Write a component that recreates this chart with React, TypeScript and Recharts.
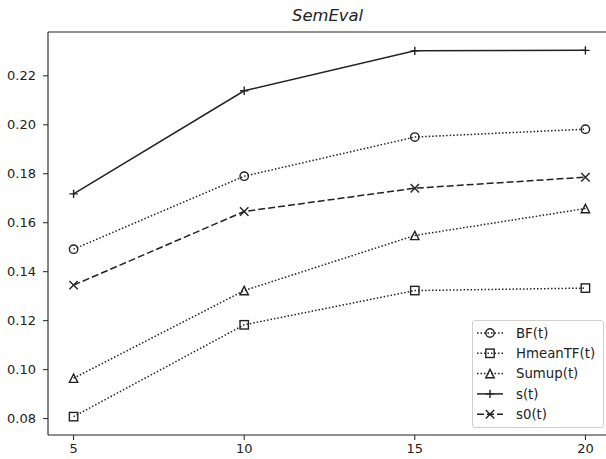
import React from 'react';
import { LineChart, Line, XAxis, YAxis, ReferenceLine } from 'recharts';

// values
const xValues = [5, 10, 15, 20];
const bfValues = [0.1492, 0.179, 0.195, 0.1982];
const hmeanValues = [0.0808, 0.1183, 0.1323, 0.1333];
const sumupValues = [0.0965, 0.1323, 0.1548, 0.1658];
const sValues = [0.1718, 0.2139, 0.2302, 0.2304];
const s0Values = [0.1345, 0.1646, 0.1741, 0.1786];
const yTicks = [0.08, 0.1, 0.12, 0.14, 0.16, 0.18, 0.2, 0.22];
const xTicks = [5, 10, 15, 20];

const data = xValues.map((x, i) => ({
  x,
  bf: bfValues[i],
  hmean: hmeanValues[i],
  sumup: sumupValues[i],
  s: sValues[i],
  s0: s0Values[i],
}));

const INK = '#222';
const FONT = '"DejaVu Sans", sans-serif';
const Y_MIN = 0.0733;
const Y_MAX = 0.2379;

type Shape = 'circle' | 'square' | 'triangle' | 'plus' | 'x';

const series: { key: string; name: string; shape: Shape; dash?: string }[] = [
  { key: 'bf', name: 'BF(t)', shape: 'circle', dash: '1.5 2' },
  { key: 'hmean', name: 'HmeanTF(t)', shape: 'square', dash: '1.5 2' },
  { key: 'sumup', name: 'Sumup(t)', shape: 'triangle', dash: '1.5 2' },
  { key: 's', name: 's(t)', shape: 'plus' },
  { key: 's0', name: 's0(t)', shape: 'x', dash: '7 3' },
];

const Marker = ({ shape, cx, cy }: { shape: Shape; cx: number; cy: number }) => {
  const h = 4.2;
  const common = { fill: 'none', stroke: INK, strokeWidth: 1.4 };
  switch (shape) {
    case 'circle':
      return <circle cx={cx} cy={cy} r={h} {...common} />;
    case 'square':
      return <rect x={cx - h} y={cy - h} width={h * 2} height={h * 2} {...common} />;
    case 'triangle':
      return (
        <polygon
          points={`${cx},${cy - h} ${cx - h},${cy + h} ${cx + h},${cy + h}`}
          {...common}
        />
      );
    case 'plus':
      return (
        <path d={`M${cx - h},${cy}H${cx + h}M${cx},${cy - h}V${cy + h}`} {...common} />
      );
    default:
      return (
        <path
          d={`M${cx - h},${cy - h}L${cx + h},${cy + h}M${cx - h},${cy + h}L${cx + h},${cy - h}`}
          {...common}
        />
      );
  }
};

const LegendBox = () => (
  <div
    style={{
      position: 'absolute',
      left: 472,
      top: 320,
      width: 132,
      height: 108,
      border: '1px solid #d0d0d0',
      borderRadius: 3,
      background: 'rgba(255,255,255,0.85)',
      boxSizing: 'border-box',
    }}
  >
    <svg width={132} height={108} style={{ position: 'absolute', left: -1, top: -1 }}>
      {series.map((s, i) => {
        const y = 13 + i * 20.3;
        return (
          <g key={s.key}>
            <line
              x1={5}
              x2={31}
              y1={y}
              y2={y}
              stroke={INK}
              strokeWidth={1.5}
              strokeDasharray={s.dash}
            />
            <Marker shape={s.shape} cx={18} cy={y} />
            <text
              x={44}
              y={y}
              dy="0.36em"
              fontFamily={FONT}
              fontSize={13.3}
              fill={INK}
            >
              {s.name}
            </text>
          </g>
        );
      })}
    </svg>
  </div>
);

export default function App() {
  return (
    <div
      style={{
        position: 'absolute',
        left: 0,
        top: 0,
        width: 606,
        height: 459,
        overflow: 'hidden',
        background: '#fff',
      }}
    >
      <div
        style={{
          position: 'absolute',
          left: 292,
          top: 6,
          fontFamily: FONT,
          fontStyle: 'italic',
          fontSize: 16.4,
          color: INK,
          lineHeight: '20px',
        }}
      >
        SemEval
      </div>
      <LineChart
        width={620}
        height={459}
        data={data}
        margin={{ top: 32, right: 9, bottom: 0, left: 0 }}
      >
        <XAxis
          dataKey="x"
          type="number"
          domain={[4.25, 20.75]}
          ticks={xTicks}
          height={24}
          tickSize={5}
          tickMargin={4}
          stroke={INK}
          axisLine={{ stroke: INK, strokeWidth: 1.1 }}
          tick={{ fill: INK, fontFamily: FONT, fontSize: 13 }}
        />
        <YAxis
          type="number"
          domain={[Y_MIN, Y_MAX]}
          ticks={yTicks}
          width={48}
          tickSize={5}
          tickMargin={7}
          stroke={INK}
          axisLine={{ stroke: INK, strokeWidth: 1.1 }}
          tick={{ fill: INK, fontFamily: FONT, fontSize: 13 }}
          tickFormatter={(v: number) => v.toFixed(2)}
        />
        <ReferenceLine y={Y_MAX} stroke={INK} strokeWidth={1.1} />
        {series.map((s) => (
          <Line
            key={s.key}
            dataKey={s.key}
            name={s.name}
            stroke={INK}
            strokeWidth={1.5}
            strokeDasharray={s.dash}
            isAnimationActive={false}
            dot={(p: any) => <Marker key={`${s.key}-${p.index}`} shape={s.shape} cx={p.cx} cy={p.cy} />}
            activeDot={false}
          />
        ))}
      </LineChart>
      <LegendBox />
    </div>
  );
}
